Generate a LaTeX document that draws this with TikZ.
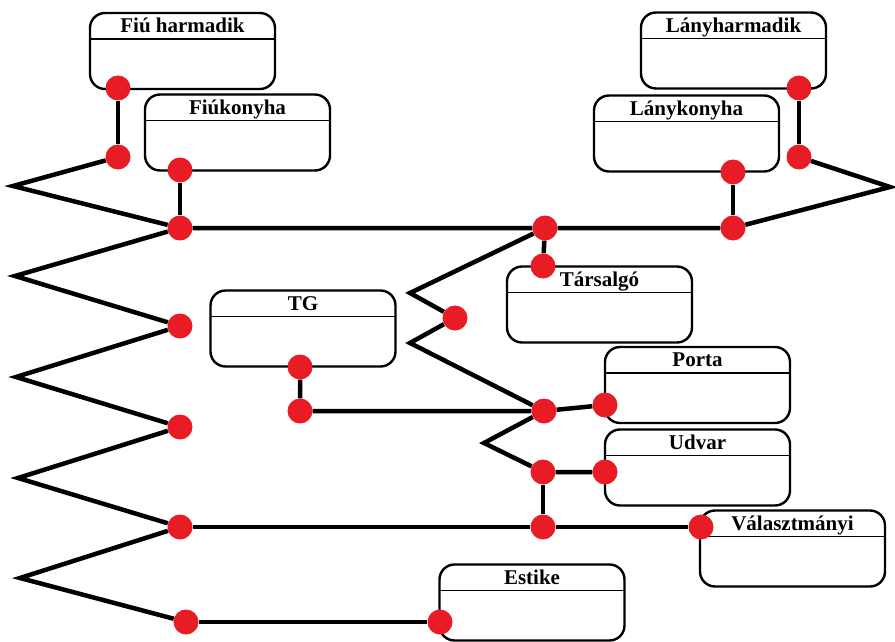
\documentclass[tikz,border=0pt]{standalone}
\usepackage{fontspec}
\setmainfont{Liberation Serif}
\usepackage{tikz}
\usetikzlibrary{positioning}
\definecolor{jointred}{RGB}{232,28,36}
\tikzset{
    x=1pt, y=-1pt, % pixel-like units, y grows downwards
    room/.style={draw, line width=2.4pt, rounded corners=15pt, fill=white,
        minimum width=185pt, minimum height=76pt, inner sep=0pt,
        path picture={\draw[line width=1.3pt]
            ([yshift=-26pt]path picture bounding box.north west) --
            ([yshift=-26pt]path picture bounding box.north east);}}, % box with a header line
    roomtitle/.style={font=\fontsize{21}{24}\selectfont\bfseries, anchor=base, inner sep=0pt}, % text in the header
    joint/.style={circle, fill=jointred, minimum size=25pt, inner sep=0pt}, % red connection point
    wire/.style={line width=4.5pt, line join=miter}, % thick black line
}

\begin{document}
\begin{tikzpicture}
\useasboundingbox (0,0) rectangle (895,642);
% rooms
\node[room] (fiuharm) at (182.5,51) {};
\node[room] (fiukonyha) at (237.5,132.5) {};
\node[room] (lanyharm) at (733.5,50.5) {};
\node[room] (lanykonyha) at (686.5,133.5) {};
\node[room] (tg) at (303,328.5) {};
\node[room] (tarsalgo) at (599.5,304.5) {};
\node[room] (porta) at (697.5,385) {};
\node[room] (udvar) at (697.5,467.5) {};
\node[room] (valaszt) at (792.5,548.5) {};
\node[room] (estike) at (532,602.5) {};
\node[roomtitle] (fiuharmT) at ([yshift=-21pt]fiuharm.north) {Fiú harmadik};
\node[roomtitle] (fiukonyhaT) at ([yshift=-21pt]fiukonyha.north) {Fiúkonyha};
\node[roomtitle] (lanyharmT) at ([yshift=-21pt]lanyharm.north) {Lányharmadik};
\node[roomtitle] (lanykonyhaT) at ([yshift=-21pt]lanykonyha.north) {Lánykonyha};
\node[roomtitle] (tgT) at ([yshift=-21pt]tg.north) {TG};
\node[roomtitle] (tarsalgoT) at ([yshift=-21pt]tarsalgo.north) {Társalgó};
\node[roomtitle] (portaT) at ([yshift=-21pt]porta.north) {Porta};
\node[roomtitle] (udvarT) at ([yshift=-21pt]udvar.north) {Udvar};
\node[roomtitle] (valasztT) at ([yshift=-21pt]valaszt.north) {Választmányi};
\node[roomtitle] (estikeT) at ([yshift=-21pt]estike.north) {Estike};
% joints
\node[joint] (j1) at (118,88) {};
\node[joint] (j2) at (118,157) {};
\node[joint] (j3) at (180,170) {};
\node[joint] (j4) at (180,228) {};
\node[joint] (j5) at (545,228) {};
\node[joint] (j6) at (543,266) {};
\node[joint] (j7) at (733,172) {};
\node[joint] (j8) at (733,228) {};
\node[joint] (j9) at (799,88) {};
\node[joint] (j10) at (799,157) {};
\node[joint] (j11) at (180,326) {};
\node[joint] (j12) at (180,427) {};
\node[joint] (j13) at (180,527) {};
\node[joint] (j14) at (186,622) {};
\node[joint] (j15) at (300,367) {};
\node[joint] (j16) at (300,411) {};
\node[joint] (j17) at (455,318) {};
\node[joint] (j18) at (544,411) {};
\node[joint] (j19) at (605,405) {};
\node[joint] (j20) at (543,472) {};
\node[joint] (j21) at (605,472) {};
\node[joint] (j22) at (543,527) {};
\node[joint] (j23) at (701,527) {};
\node[joint] (j24) at (440,622) {};
% zigzag corners
\coordinate (z1) at (13,186);
\coordinate (z2) at (15,276);
\coordinate (z3) at (16,377);
\coordinate (z4) at (18,478);
\coordinate (z5) at (20,578);
\coordinate (z6) at (890,187);
\coordinate (z7) at (410,293);
\coordinate (z8) at (410,343);
\coordinate (z9) at (484,443);
% wires
\draw[wire] (j1) -- (j2);
\draw[wire] (j3) -- (j4);
\draw[wire] (j7) -- (j8);
\draw[wire] (j9) -- (j10);
\draw[wire] (j5) -- (j6);
\draw[wire] (j2) -- (z1) -- (j4) -- (z2) -- (j11) -- (z3) -- (j12) -- (z4) -- (j13) -- (z5) -- (j14);
\draw[wire] (j4) -- (j5) -- (j8) -- (z6) -- (j10);
\draw[wire] (j5) -- (z7) -- (j17) -- (z8) -- (j18);
\draw[wire] (j15) -- (j16) -- (j18) -- (j19);
\draw[wire] (j18) -- (z9) -- (j20) -- (j21);
\draw[wire] (j20) -- (j22);
\draw[wire] (j13) -- (j22) -- (j23);
\draw[wire] (j14) -- (j24);
\end{tikzpicture}
\end{document}
